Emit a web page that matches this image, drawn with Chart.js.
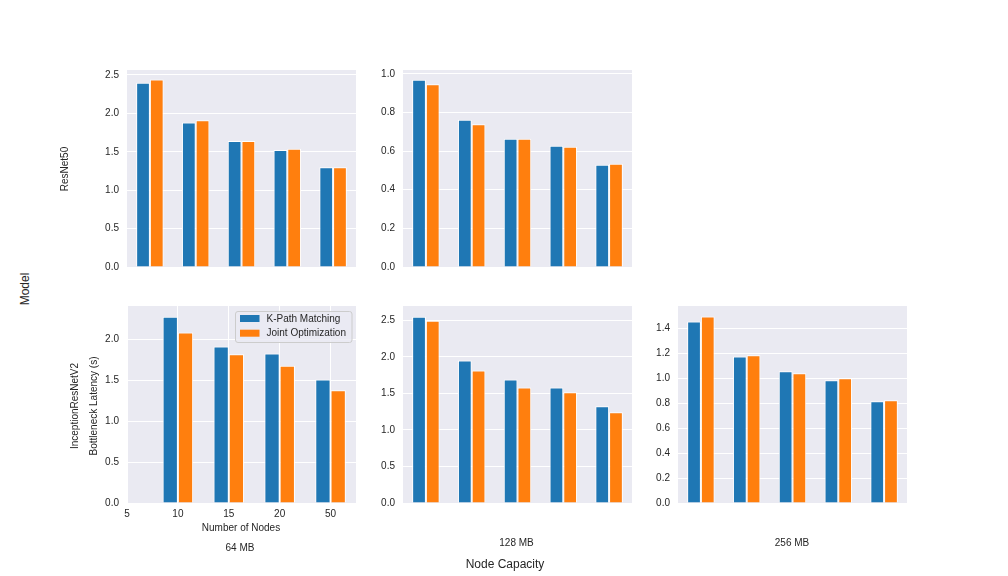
<!DOCTYPE html>
<html><head><meta charset="utf-8">
<script src="https://cdn.jsdelivr.net/npm/chart.js@4.4.1/dist/chart.umd.min.js"></script>
<style>
html,body{margin:0;padding:0;background:#fff}
body{width:1008px;height:576px;position:relative;overflow:hidden;font-family:"Liberation Sans",Arial,sans-serif;color:#262626}
.p{position:absolute}
.t{position:absolute;white-space:nowrap;font-size:10px;line-height:1;transform:translate(-50%,-50%)}
.r{transform:translate(-50%,-50%) rotate(-90deg)}
</style></head><body>
<div class="p" id="pTL"><canvas id="cTL"></canvas></div>
<div class="p" id="pTM"><canvas id="cTM"></canvas></div>
<div class="p" id="pBL"><canvas id="cBL"></canvas></div>
<div class="p" id="pBM"><canvas id="cBM"></canvas></div>
<div class="p" id="pBR"><canvas id="cBR"></canvas></div>

<div class="t r" style="left:25px;top:289px;font-size:12px">Model</div>
<div class="t r" style="left:65px;top:169px">ResNet50</div>
<div class="t r" style="left:75px;top:405.5px">InceptionResNetV2</div>
<div class="t r" style="left:93.5px;top:405.5px">Bottleneck Latency (s)</div>
<div class="t" style="left:241px;top:527.5px">Number of Nodes</div>
<div class="t" style="left:240px;top:548px">64 MB</div>
<div class="t" style="left:516.5px;top:542.5px">128 MB</div>
<div class="t" style="left:792px;top:542.5px">256 MB</div>
<div class="t" style="left:505px;top:564px;font-size:12px">Node Capacity</div>

<script>
// ---- data ----
const nodeCounts = ["5", "10", "15", "20", "50"];
const seriesNames = ["K-Path Matching", "Joint Optimization"];
const seriesColors = ["#1f77b4", "#ff7f0e"];

const resnet64Kpath  = [2.40, 1.88, 1.64, 1.525, 1.30];
const resnet64Joint  = [2.44, 1.91, 1.64, 1.54, 1.30];
const resnet128Kpath = [0.970, 0.763, 0.664, 0.628, 0.529];
const resnet128Joint = [0.946, 0.739, 0.664, 0.623, 0.534];
const incep64Kpath   = [null, 2.28, 1.915, 1.83, 1.51];
const incep64Joint   = [null, 2.085, 1.82, 1.68, 1.38];
const incep128Kpath  = [2.548, 1.95, 1.69, 1.58, 1.324];
const incep128Joint  = [2.494, 1.814, 1.58, 1.514, 1.242];
const incep256Kpath  = [1.456, 1.174, 1.056, 0.984, 0.816];
const incep256Joint  = [1.496, 1.184, 1.04, 1.0, 0.824];

// ---- layout ----
const PW = 229, PH = 197, PADL = 60, PADT = 14, PADR = 12, PADB = 14, XAX = 30;
const FONT = '"Liberation Sans", Arial, sans-serif';
const TXT = '#262626';

const bgPlugin = {
  id: 'bg',
  beforeDraw(chart) {
    const a = chart.chartArea, ctx = chart.ctx;
    ctx.save(); ctx.fillStyle = '#EAEAF2';
    ctx.fillRect(a.left, a.top, a.right - a.left, a.bottom - a.top);
    ctx.restore();
  }
};
const legendPlugin = {
  id: 'insideLegend',
  afterDraw(chart, args, opts) {
    if (!opts || !opts.show) return;
    const ctx = chart.ctx, a = chart.chartArea;
    const w = 116.5, h = 31;
    const x = a.right - 4.5 - w, y = a.top + 5;
    ctx.save();
    ctx.beginPath();
    if (ctx.roundRect) ctx.roundRect(x + 0.5, y + 0.5, w, h, 2.5); else ctx.rect(x + 0.5, y + 0.5, w, h);
    ctx.fillStyle = 'rgba(234,234,242,0.8)'; ctx.fill();
    ctx.strokeStyle = '#cccccc'; ctx.lineWidth = 1; ctx.stroke();
    chart.data.datasets.forEach((ds, i) => {
      const cy = y + 7.5 + i * 14.7;
      ctx.fillStyle = ds.backgroundColor;
      ctx.fillRect(x + 5, cy - 3.5, 19.5, 7);
      ctx.fillStyle = TXT; ctx.font = '10px ' + FONT;
      ctx.textBaseline = 'middle'; ctx.textAlign = 'left';
      ctx.fillText(ds.label, x + 31.5, cy + 0.5);
    });
    ctx.restore();
  }
};

function makePanel(id, left, top, kp, jo, yMax, step, opts) {
  const showX = !!opts.showX;
  const h = PADT + PH + (showX ? XAX : PADB);
  const div = document.getElementById('p' + id);
  div.style.left = (left - PADL) + 'px';
  div.style.top = (top - PADT) + 'px';
  div.style.width = (PADL + PW + PADR) + 'px';
  div.style.height = h + 'px';
  const series = [kp, jo];
  const datasets = series.map((vals, s) => ({
    label: seriesNames[s],
    data: vals.map((v, i) => ({ x: i, y: v })),
    backgroundColor: seriesColors[s],
    borderColor: '#ffffff',
    borderWidth: 1,
    borderSkipped: 'start',
    categoryPercentage: 0.6,
    barPercentage: 1.0
  }));
  return new Chart(document.getElementById('c' + id), {
    type: 'bar',
    data: { datasets },
    plugins: [bgPlugin, legendPlugin],
    options: {
      responsive: true, maintainAspectRatio: false, animation: false,
      devicePixelRatio: 1,
      layout: { padding: { left: 0, top: PADT, right: PADR, bottom: showX ? 0 : PADB } },
      plugins: { legend: { display: false }, tooltip: { enabled: false }, insideLegend: { show: !!opts.legend } },
      scales: {
        x: {
          type: 'linear', offset: false,
          min: opts.xMin, max: 4.5,
          display: showX,
          grid: { display: showX, color: '#ffffff', lineWidth: 1, drawTicks: false, offset: false },
          border: { display: false },
          ticks: { padding: 5, color: TXT, font: { family: FONT, size: 10 }, includeBounds: false,
                   callback: (v) => nodeCounts[v] },
          afterBuildTicks: (sc) => { sc.ticks = nodeCounts.map((_, i) => ({ value: i })); },
          afterFit: (sc) => { sc.height = showX ? XAX : 0; }
        },
        y: {
          type: 'linear', min: 0, max: yMax,
          grid: { color: '#ffffff', lineWidth: 1, drawTicks: false },
          border: { display: false },
          ticks: { stepSize: step, includeBounds: false, padding: 8, color: TXT,
                   font: { family: FONT, size: 10 }, callback: (v) => Number(v).toFixed(1) },
          afterFit: (sc) => { sc.width = PADL; }
        }
      }
    }
  });
}

makePanel('TL', 127, 70, resnet64Kpath, resnet64Joint, 2.565, 0.5, { xMin: -0.5 });
makePanel('TM', 403, 70, resnet128Kpath, resnet128Joint, 1.02, 0.2, { xMin: -0.5 });
makePanel('BL', 127, 306, incep64Kpath, incep64Joint, 2.41, 0.5, { xMin: 0, showX: true, legend: true });
makePanel('BM', 403, 306, incep128Kpath, incep128Joint, 2.695, 0.5, { xMin: -0.5 });
makePanel('BR', 678, 306, incep256Kpath, incep256Joint, 1.58, 0.2, { xMin: -0.5 });
</script>
</body></html>
